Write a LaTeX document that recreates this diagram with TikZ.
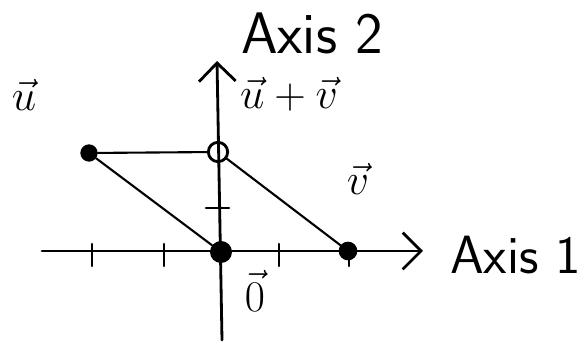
\documentclass[tikz,border=0pt]{standalone}
\usepackage{amsmath}
\usepackage{graphicx}
\usepackage{tikz}
\usetikzlibrary{arrows.meta,positioning}

\begin{document}
\begin{tikzpicture}[x=0.03cm, y=0.03cm, line cap=round,
    axis/.style={line width=2.4pt, -{Straight Barb[length=0.55cm, width=1.1cm, line width=2.4pt]}},
    side/.style={line width=1.8pt},
    axtick/.style={line width=2.2pt},
    vdot/.style={circle, fill=black, inner sep=0pt, minimum size=0.52cm},
    odot/.style={circle, draw=black, line width=2.4pt, inner sep=0pt, minimum size=0.58cm},
    vlabel/.style={font=\huge},
    axlabel/.style={font=\sffamily\fontsize{50}{56}\selectfont}]
  \useasboundingbox (0,0) rectangle (584,345);
  % axes
  \coordinate (xl) at (42,94);
  \coordinate (xr) at (423,94);
  \coordinate (yb) at (222,5);
  \coordinate (yt) at (217,284);
  \draw[axis] (xl) -- (xr);
  \draw[axis] (yb) -- (yt);
  \node[axlabel, anchor=west, font=\sffamily\fontsize{46}{52}\selectfont] (ax1) at (446,90) {Axis 1};
  \node[axlabel] (ax2) at (312,312) {Axis 2};
  % ticks
  \foreach \t in {92,164,279,349}
    \draw[axtick] (\t,101) -- (\t,79);
  \draw[axtick] (206,137) -- (229,137);
  % points
  \node[vdot, minimum size=0.66cm] (o) at (221,93) {};
  \node[vdot] (u) at (89,192) {};
  \node[odot] (uv) at (218,193) {};
  \node[vdot, minimum size=0.56cm] (v) at (348,94) {};
  % parallelogram
  \draw[side] (u) -- (uv);
  \draw[side] (u) -- (o);
  \draw[side] (uv) -- (v);
  % labels
  \node[vlabel] (lu) at (24,250) {\scalebox{1.8}{$\vec{u}$}};
  \node[vlabel] (luv) at (289,251) {\scalebox{1.8}{$\vec{u}+\vec{v}$}};
  \node[vlabel] (lv) at (358,166) {\scalebox{1.8}{$\vec{v}$}};
  \node[vlabel] (lo) at (255,54) {\scalebox{1.8}{$\vec{0}$}};
\end{tikzpicture}
\end{document}
